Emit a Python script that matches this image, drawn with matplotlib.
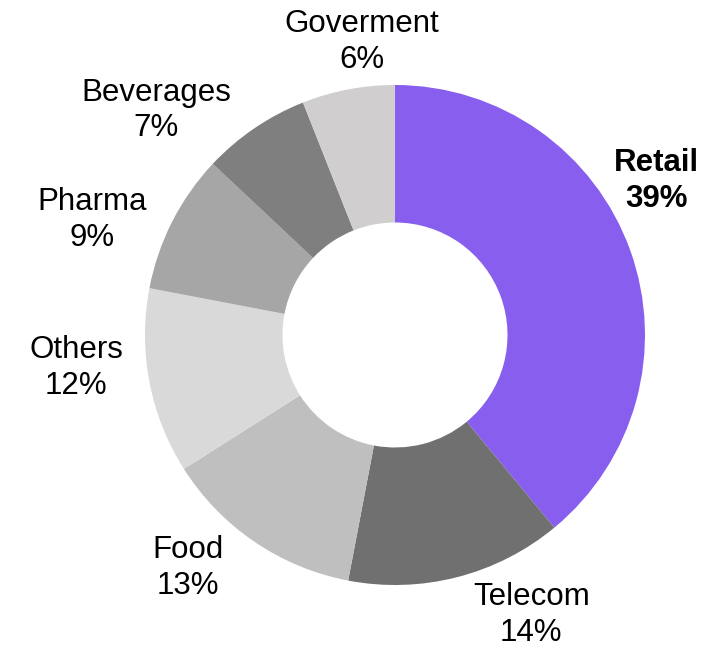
import numpy as np
import matplotlib.pyplot as plt

plt.rcParams['font.family'] = ['Liberation Sans', 'DejaVu Sans']

# data
sectors = ['Retail', 'Telecom', 'Food', 'Others', 'Pharma', 'Beverages', 'Goverment']
shares = [39, 14, 13, 12, 9, 7, 6]
colors = ['#875EEE', '#707070', '#BFBFBF', '#D9D9D9', '#A6A6A6', '#7F7F7F', '#D0CECE']

# label placement (angle in degrees, distance as fraction of radius)
label_angle = [31, -63.8, -132, -174.6, 158.7, 136.4, 96.4]
label_dist = [1.22, 1.235, 1.24, 1.28, 1.30, 1.32, 1.19]

W, H = 708, 649
cx, cy, R = 395, H - 335, 250

fig = plt.figure(figsize=(W / 100, H / 100), dpi=100)
ax = fig.add_axes([0, 0, 1, 1])
ax.pie(shares, colors=colors, startangle=90, counterclock=False,
       center=(cx, cy), radius=R,
       wedgeprops=dict(width=R * 0.55, linewidth=0))
ax.set_xlim(0, W)
ax.set_ylim(0, H)
ax.set_aspect('equal')
ax.axis('off')

for i, name in enumerate(sectors):
    a = np.deg2rad(label_angle[i])
    x = cx + R * label_dist[i] * np.cos(a)
    y = cy + R * label_dist[i] * np.sin(a) - 3
    ax.text(x, y, f'{name}\n{shares[i]}%', ha='center', va='center',
            fontsize=22.5, linespacing=1.25,
            fontweight='bold' if name == 'Retail' else 'normal')

fig.savefig('out.png', dpi=100)
